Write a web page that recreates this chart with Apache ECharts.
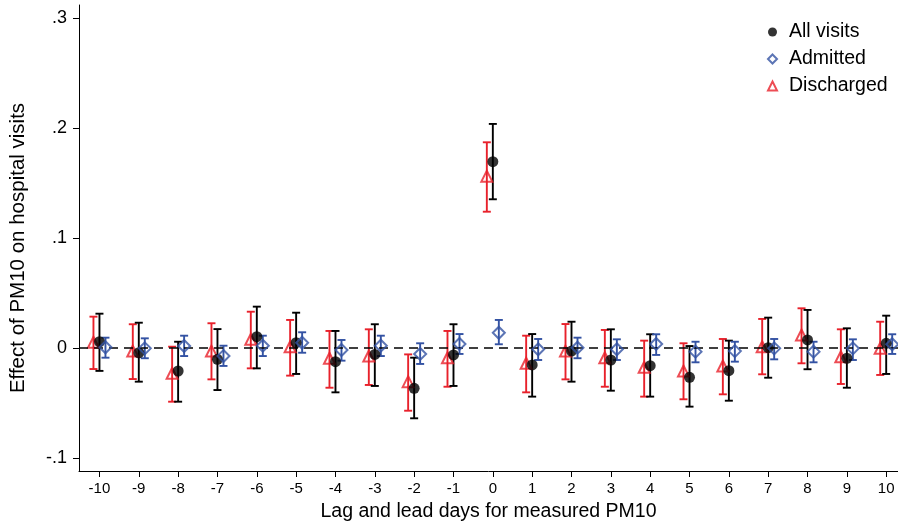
<!DOCTYPE html>
<html>
<head>
<meta charset="utf-8">
<script src="https://cdn.jsdelivr.net/npm/echarts@6/dist/echarts.min.js"></script>
<style>
html,body{margin:0;padding:0;background:#fff;}
#c{width:898px;height:528px;}
</style>
</head>
<body>
<div id="c"></div>
<script>
const lags = [-10,-9,-8,-7,-6,-5,-4,-3,-2,-1,0,1,2,3,4,5,6,7,8,9,10];

const allVisits   = [0.0055,-0.0045,-0.0211,-0.0105,0.0101,0.0046,-0.0126,-0.0060,-0.0368,-0.0065,0.1692,-0.0156,-0.0030,-0.0111,-0.0163,-0.0268,-0.0208,0.0001,0.0071,-0.0095,0.0041];
const allVisitsHi = [0.0310,0.0228,0.0055,0.0170,0.0374,0.0319,0.0153,0.0214,-0.0090,0.0214,0.2035,0.0125,0.0237,0.0168,0.0123,0.0016,0.0065,0.0274,0.0344,0.0177,0.0292];
const allVisitsLo = [-0.0210,-0.0308,-0.0490,-0.0384,-0.0187,-0.0238,-0.0405,-0.0347,-0.0641,-0.0347,0.1350,-0.0444,-0.0308,-0.0390,-0.0444,-0.0535,-0.0481,-0.0272,-0.0195,-0.0363,-0.0238];

const admitted   = [0.0005,-0.0005,0.0016,-0.0075,0.0019,0.0046,-0.0020,0.0019,-0.0056,0.0035,0.0137,-0.0014,0.0001,-0.0014,0.0035,-0.0035,-0.0030,-0.0005,-0.0035,-0.0005,0.0032];
const admittedHi = [0.0092,0.0086,0.0110,0.0019,0.0110,0.0141,0.0071,0.0110,0.0041,0.0125,0.0253,0.0080,0.0092,0.0077,0.0123,0.0055,0.0055,0.0080,0.0055,0.0077,0.0123];
const admittedLo = [-0.0090,-0.0095,-0.0075,-0.0165,-0.0075,-0.0045,-0.0117,-0.0075,-0.0147,-0.0056,0.0032,-0.0111,-0.0095,-0.0111,-0.0065,-0.0132,-0.0126,-0.0105,-0.0132,-0.0111,-0.0056];

const discharged   = [0.0050,-0.0030,-0.0232,-0.0030,0.0077,0.0010,-0.0095,-0.0075,-0.0308,-0.0090,0.1560,-0.0141,-0.0030,-0.0090,-0.0177,-0.0211,-0.0165,0.0010,0.0116,-0.0081,-0.0005];
const dischargedHi = [0.0283,0.0214,0.0010,0.0223,0.0328,0.0253,0.0153,0.0168,-0.0060,0.0153,0.1868,0.0110,0.0216,0.0162,0.0065,0.0041,0.0080,0.0262,0.0359,0.0168,0.0237];
const dischargedLo = [-0.0193,-0.0284,-0.0490,-0.0287,-0.0187,-0.0253,-0.0363,-0.0338,-0.0572,-0.0354,0.1237,-0.0405,-0.0287,-0.0354,-0.0444,-0.0468,-0.0423,-0.0241,-0.0141,-0.0329,-0.0247];

const yTicks = [-0.1, 0, 0.1, 0.2, 0.3];
const xTitle = 'Lag and lead days for measured PM10';
const yTitle = 'Effect of PM10 on hospital visits';

const BLACK = '#000000', BLUE = '#3352a3', RED = '#e8212b';
const FONT = '"Liberation Sans", Arial, sans-serif';

function errSeries(name, lo, hi, color, dx) {
  return {
    name: name, type: 'custom', silent: true, z: 2,
    data: lags.map((x, i) => [x, lo[i], hi[i]]),
    renderItem: function (params, api) {
      const pHi = api.coord([api.value(0), api.value(2)]);
      const pLo = api.coord([api.value(0), api.value(1)]);
      const x = pHi[0] + dx, cw = 4;
      const st = { stroke: color, lineWidth: 1.9 };
      return { type: 'group', children: [
        { type: 'line', shape: { x1: x, y1: pHi[1], x2: x, y2: pLo[1] }, style: st },
        { type: 'line', shape: { x1: x - cw, y1: pHi[1], x2: x + cw, y2: pHi[1] }, style: st },
        { type: 'line', shape: { x1: x - cw, y1: pLo[1], x2: x + cw, y2: pLo[1] }, style: st }
      ]};
    }
  };
}

function ptSeries(name, vals, symbol, size, itemStyle, dx, z) {
  return {
    name: name, type: 'scatter', symbol: symbol, symbolSize: size,
    symbolOffset: [dx, 0], z: z,
    data: lags.map((x, i) => [x, vals[i]]),
    itemStyle: itemStyle
  };
}

const chart = echarts.init(document.getElementById('c'), null, { renderer: 'canvas' });
chart.setOption({
  animation: false,
  backgroundColor: '#fff',
  textStyle: { fontFamily: FONT, color: '#000' },
  grid: { left: 79, right: 0, top: 5, bottom: 57, containLabel: false, outerBoundsMode: 'none' },
  legend: {
    data: ['All visits', 'Admitted', 'Discharged'],
    orient: 'vertical', left: 762, top: 17, itemGap: 7,
    itemWidth: 9, itemHeight: 9,
    textStyle: { fontFamily: FONT, fontSize: 19.5, color: '#000', padding: [0, 0, 0, 7] },
    selectedMode: false
  },
  graphic: [{
    type: 'text', x: 18, y: 248, rotation: Math.PI / 2, silent: true,
    style: { text: yTitle, fontFamily: FONT, fontSize: 20.5, fill: '#000',
      textAlign: 'center', textVerticalAlign: 'middle' }
  }],
  xAxis: {
    type: 'value', min: -10.52, max: 10.3,
    name: xTitle, nameLocation: 'middle', nameGap: 31, nameMoveOverlap: false,
    nameTextStyle: { fontFamily: FONT, fontSize: 19.5, color: '#000' },
    axisLine: { onZero: false, lineStyle: { color: '#000', width: 1 } },
    axisTick: { show: true, length: 6, customValues: lags, lineStyle: { color: '#000' } },
    axisLabel: { customValues: lags, margin: 10, fontFamily: FONT, fontSize: 15, color: '#000',
      formatter: v => String(Math.round(v)) },
    splitLine: { show: false }
  },
  yAxis: {
    type: 'value', min: -0.112, max: 0.3116,
    axisLine: { show: true, onZero: false, lineStyle: { color: '#000', width: 1 } },
    axisTick: { show: true, length: 6, customValues: yTicks, lineStyle: { color: '#000' } },
    axisLabel: { customValues: yTicks, margin: 12, fontFamily: FONT, fontSize: 18, color: '#000',
      formatter: v => { const r = Math.round(v * 10) / 10; if (r === 0) return '0'; return (r < 0 ? '-' : '') + String(Math.abs(r)).replace(/^0/, ''); } },
    splitLine: { show: false }
  },
  series: [
    Object.assign(errSeries('dis-ci', dischargedLo, dischargedHi, RED, -6), {
      markLine: { silent: true, symbol: 'none', label: { show: false },
        lineStyle: { color: '#000', type: [9, 6], width: 1.6 },
        data: [{ yAxis: 0 }] }
    }),
    errSeries('all-ci', allVisitsLo, allVisitsHi, BLACK, 0),
    errSeries('adm-ci', admittedLo, admittedHi, BLUE, 6),
    ptSeries('Discharged', discharged, 'triangle', 11, { color: 'rgba(255,255,255,0)', borderColor: RED, borderWidth: 2 }, -6, 3),
    ptSeries('All visits', allVisits, 'circle', 11, { color: BLACK }, 0, 4),
    ptSeries('Admitted', admitted, 'diamond', 12, { color: 'rgba(255,255,255,0)', borderColor: BLUE, borderWidth: 2 }, 6, 5)
  ]
});
</script>
</body>
</html>
